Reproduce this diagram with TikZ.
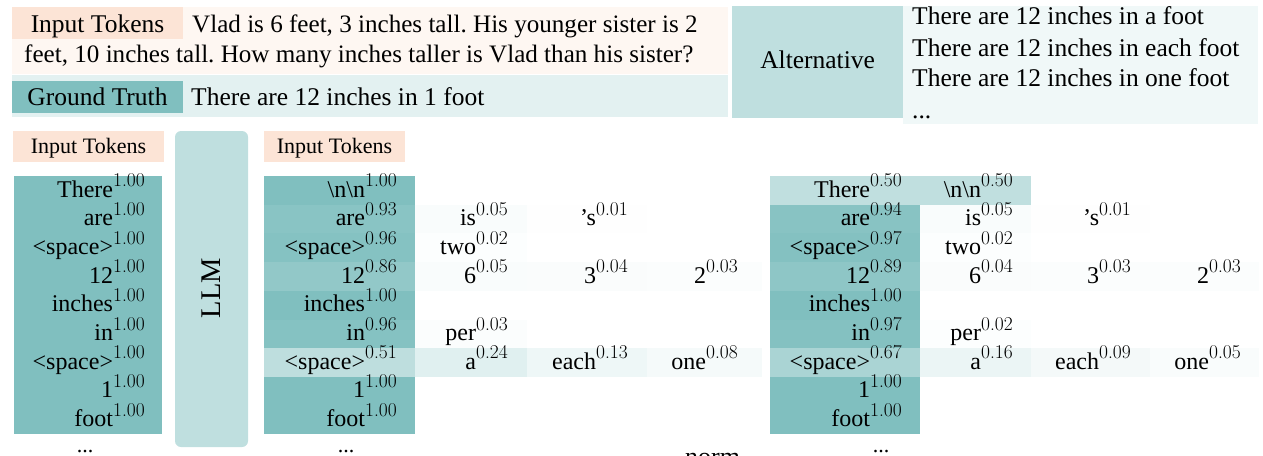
\documentclass[tikz,border=0pt]{standalone}
\usepackage{fontspec}
\setmainfont{Liberation Serif}
\frenchspacing
\definecolor{tk}{RGB}{128,191,191}
\definecolor{peach}{RGB}{252,228,214}
\definecolor{peachbg}{RGB}{254,247,242}
\definecolor{gtbg}{RGB}{227,241,241}
\definecolor{altc}{RGB}{191,223,223}
\definecolor{altbg}{RGB}{240,248,248}
\newcommand\pw[1]{\raisebox{10.3pt}{\fontfamily{lmr}\fontsize{19.5}{21}\selectfont #1}}
\tikzset{
  toptxt/.style={inner sep=0pt, font=\fontsize{25.5}{30}\selectfont},
  qtxt/.style={inner sep=0pt, font=\fontsize{25.1}{30}\selectfont, anchor=base west},
  tok/.style={inner sep=0pt, font=\fontsize{24}{28}\selectfont, anchor=base east},
  lbl/.style={inner sep=0pt, font=\fontsize{22}{26}\selectfont, anchor=base},
}
\begin{document}
\begin{tikzpicture}[x=1pt,y=-1pt]
\useasboundingbox (0,0) rectangle (1263,455);
% ---------- top section ----------
\fill[peachbg] (12,7) rectangle (728,74);
\fill[peach] (12,7) rectangle (183,39);
\fill[gtbg] (12,75) rectangle (728,117);
\fill[tk] (12,81) rectangle (183,113);
\fill[altc] (732,6) rectangle (903,118);
\fill[altbg] (903,6) rectangle (1258,124);
\node[toptxt, anchor=base] (itlab) at (97.5,32) {Input Tokens};
\node[qtxt] (q1) at (192,32) {Vlad is 6 feet, 3 inches tall. His younger sister is 2};
\node[qtxt] (q2) at (24,62) {feet, 10 inches tall. How many inches taller is Vlad than his sister?};
\node[toptxt, anchor=base] (gtlab) at (97.5,105) {Ground Truth};
\node[toptxt, anchor=base west] (gt) at (191,105) {There are 12 inches in 1 foot};
\node[toptxt, anchor=base] (altlab) at (817.6,68) {Alternative};
\node[toptxt, anchor=base west] (a1) at (912,24) {There are 12 inches in a foot};
\node[toptxt, anchor=base west] (a2) at (912,56) {There are 12 inches in each foot};
\node[toptxt, anchor=base west] (a3) at (912,86) {There are 12 inches in one foot};
\node[toptxt, anchor=base west] (a4) at (912,118) {...};
% ---------- labels and LLM ----------
\fill[peach] (13,131) rectangle (164,162);
\fill[peach] (264,131) rectangle (405,162);
\node[lbl] (lab1) at (88.5,153) {Input Tokens};
\node[lbl] (lab2) at (334.5,153) {Input Tokens};
\fill[altc, rounded corners=6pt] (175,131) rectangle (248,447);
\node[inner sep=0pt, rotate=90, font=\fontsize{28.5}{30}\selectfont] (llm) at (211.5,288) {LLM};
% ---------- left column ----------
\foreach \i/\t/\p/\c in {1/There/1.00/100, 2/are/1.00/100, 3/{\textless space\textgreater}/1.00/100, 4/12/1.00/100, 5/inches/1.00/100, 6/in/1.00/100, 7/{\textless space\textgreater}/1.00/100, 8/1/1.00/100, 9/foot/1.00/100}
{
  \fill[tk!\c] (14,{176+28.7*(\i-1)}) rectangle (162,{176+28.7*\i});
  \node[tok] (L\i) at (145,{176+28.7*(\i-1)+21}) {\t\pw{\p}};
}
% ---------- middle column ----------
\foreach \i/\t/\p/\c in {1/{\textbackslash n\textbackslash n}/1.00/100, 2/are/0.93/93, 3/{\textless space\textgreater}/0.96/96, 4/12/0.86/86, 5/inches/1.00/100, 6/in/0.96/96, 7/{\textless space\textgreater}/0.51/51, 8/1/1.00/100, 9/foot/1.00/100}
{
  \fill[tk!\c] (264,{176+28.7*(\i-1)}) rectangle (415,{176+28.7*\i});
  \node[tok] (M\i) at (397,{176+28.7*(\i-1)+21}) {\t\pw{\p}};
}
\foreach \r/\xa/\xb/\xs/\t/\p/\v [count=\n] in {2/415/527/508/is/0.05/5, 2/527/647/628/{’s}/0.01/1, 3/415/527/508/two/0.02/2, 4/415/527/508/6/0.05/5, 4/527/647/628/3/0.04/4, 4/647/762/738/2/0.03/3, 6/415/527/508/per/0.03/3, 7/415/527/508/a/0.24/24, 7/527/647/628/each/0.13/13, 7/647/762/738/one/0.08/8}
{
  \fill[tk!\v] (\xa,{176+28.7*(\r-1)}) rectangle (\xb,{176+28.7*\r});
  \node[tok] (MC\n) at (\xs,{176+28.7*(\r-1)+21}) {\t\pw{\p}};
}
% ---------- right column ----------
\foreach \i/\t/\p/\c in {1/There/0.50/50, 2/are/0.94/94, 3/{\textless space\textgreater}/0.97/97, 4/12/0.89/89, 5/inches/1.00/100, 6/in/0.97/97, 7/{\textless space\textgreater}/0.67/67, 8/1/1.00/100, 9/foot/1.00/100}
{
  \fill[tk!\c] (770,{176+28.7*(\i-1)}) rectangle (920,{176+28.7*\i});
  \node[tok] (R\i) at (902,{176+28.7*(\i-1)+21}) {\t\pw{\p}};
}
\foreach \r/\xa/\xb/\xs/\t/\p/\v [count=\n] in {1/920/1031/1013/{\textbackslash n\textbackslash n}/0.50/50, 2/920/1031/1013/is/0.05/5, 2/1031/1150/1131/{’s}/0.01/1, 3/920/1031/1013/two/0.02/2, 4/920/1031/1013/6/0.04/4, 4/1031/1150/1131/3/0.03/3, 4/1150/1259/1241/2/0.03/3, 6/920/1031/1013/per/0.02/2, 7/920/1031/1013/a/0.16/16, 7/1031/1150/1131/each/0.09/9, 7/1150/1259/1241/one/0.05/5}
{
  \fill[tk!\v] (\xa,{176+28.7*(\r-1)}) rectangle (\xb,{176+28.7*\r});
  \node[tok] (RC\n) at (\xs,{176+28.7*(\r-1)+21}) {\t\pw{\p}};
}
% ---------- bottom (cut off in the reference) ----------
\node[lbl] (d1) at (85,452) {...};
\node[lbl] (d2) at (346,452) {...};
\node[lbl] (d3) at (881,452) {...};
\node[inner sep=0pt, anchor=base west, font=\fontsize{26}{28}\selectfont] (norm) at (685,465) {norm};
\end{tikzpicture}
\end{document}
